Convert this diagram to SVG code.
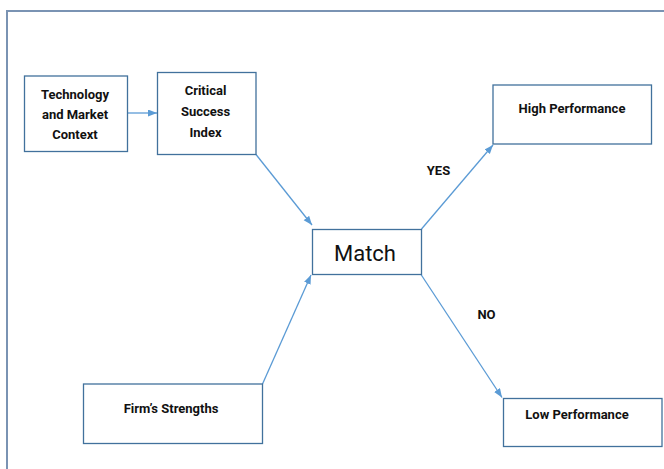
<svg xmlns="http://www.w3.org/2000/svg" width="664" height="469" viewBox="0 0 664 469">
<defs>
<style>
.box{fill:#fff;stroke:#41719C;stroke-width:1.3}
.lbl{font-family:Roboto,"Liberation Sans",sans-serif;font-weight:700;font-size:13px;fill:#111;text-anchor:middle}
.big{font-family:Roboto,"Liberation Sans",sans-serif;font-weight:400;font-size:22px;fill:#111;text-anchor:middle}
.conn{stroke:#5B9BD5;stroke-width:1.3;fill:none;marker-end:url(#ah)}
</style>
<marker id="ah" markerUnits="userSpaceOnUse" markerWidth="10" markerHeight="8" refX="9" refY="3.5" orient="auto">
<path d="M0,0 L9,3.5 L0,7 z" fill="#5B9BD5"/>
</marker>
</defs>
<rect width="664" height="469" fill="#fff"/>
<rect x="7" y="11" width="700" height="500" fill="none" stroke="#7A93B3" stroke-width="2"/>
<g id="connectors">
<line class="conn" x1="128" y1="113" x2="157" y2="113"/>
<line class="conn" x1="256" y1="154.5" x2="312" y2="225"/>
<line class="conn" x1="262.5" y1="384" x2="311" y2="275"/>
<line class="conn" x1="421.5" y1="229" x2="493" y2="145"/>
<line class="conn" x1="421" y1="274.5" x2="502" y2="397.5"/>
<text class="lbl" x="438.5" y="175">YES</text>
<text class="lbl" x="486.5" y="319">NO</text>
</g>
<g id="tech">
<rect class="box" x="24.5" y="76" width="103" height="75.5"/>
<text class="lbl" x="75" y="99">Technology</text>
<text class="lbl" x="75" y="119">and Market</text>
<text class="lbl" x="75" y="139">Context</text>
</g>
<g id="csi">
<rect class="box" x="157.5" y="72.5" width="98.5" height="82"/>
<text class="lbl" x="205.5" y="95">Critical</text>
<text class="lbl" x="205.5" y="116">Success</text>
<text class="lbl" x="205.5" y="137">Index</text>
</g>
<g id="match">
<rect class="box" x="312.5" y="229.5" width="109" height="45"/>
<text class="big" x="365" y="260.5">Match</text>
</g>
<g id="high">
<rect class="box" x="493" y="85" width="158.5" height="59"/>
<text class="lbl" x="572" y="112.5">High Performance</text>
</g>
<g id="firm">
<rect class="box" x="83.5" y="384" width="179" height="59.5"/>
<text class="lbl" x="171" y="412.5">Firm’s Strengths</text>
</g>
<g id="low">
<rect class="box" x="503.5" y="398.5" width="158.5" height="48"/>
<text class="lbl" x="577" y="418.5">Low Performance</text>
</g>
</svg>
